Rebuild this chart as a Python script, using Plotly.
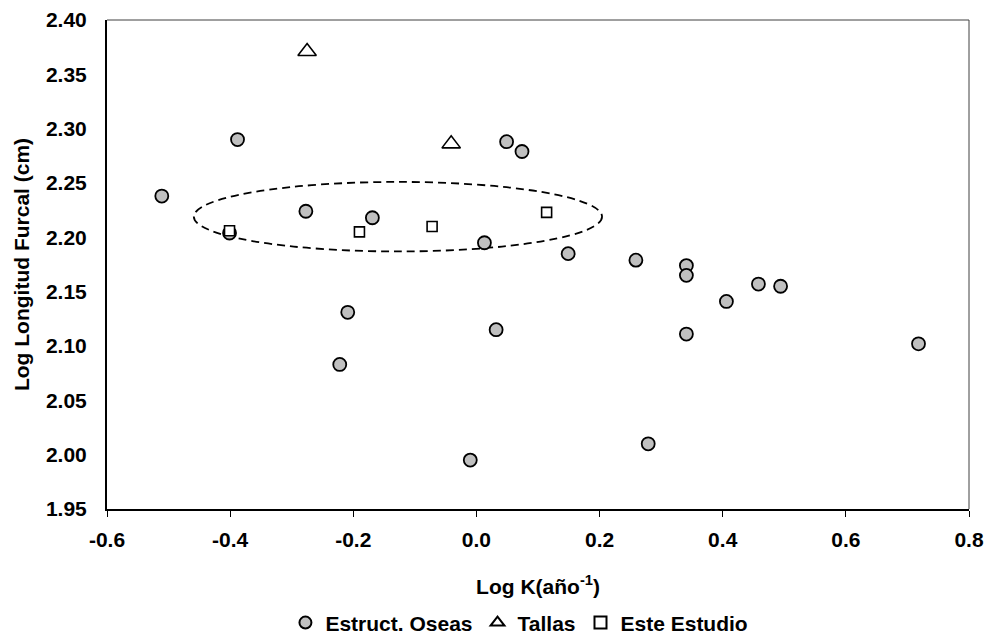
import plotly.graph_objects as go

# ---- data ----
estruct_x = [-0.511, -0.388, -0.401, -0.277, -0.169, -0.209, -0.222, -0.010, 0.013, 0.032, 0.049,
             0.074, 0.149, 0.259, 0.279, 0.341, 0.341, 0.341, 0.406, 0.458, 0.494, 0.718]
estruct_y = [2.238, 2.290, 2.204, 2.224, 2.218, 2.131, 2.083, 1.995, 2.195, 2.115, 2.288,
             2.279, 2.185, 2.179, 2.010, 2.174, 2.165, 2.111, 2.141, 2.157, 2.155, 2.102]

tallas_x = [-0.275, -0.041]
tallas_y = [2.371, 2.286]

estudio_x = [-0.401, -0.190, -0.072, 0.114]
estudio_y = [2.206, 2.205, 2.210, 2.223]

series_names = ["Estruct. Oseas", "Tallas", "Este Estudio"]

x_tickvals = [-0.6, -0.4, -0.2, 0.0, 0.2, 0.4, 0.6, 0.8]
x_ticktext = ["-0.6", "-0.4", "-0.2", "0.0", "0.2", "0.4", "0.6", "0.8"]
y_tickvals = [1.95, 2.00, 2.05, 2.10, 2.15, 2.20, 2.25, 2.30, 2.35, 2.40]
y_ticktext = ["1.95", "2.00", "2.05", "2.10", "2.15", "2.20", "2.25", "2.30", "2.35", "2.40"]

# dashed ellipse bounds (data units)
ellipse_x = [-0.459, 0.204]
ellipse_y = [2.187, 2.251]

FONT = "Arial, 'Liberation Sans', sans-serif"
FS = 21

fig = go.Figure()
fig.add_trace(go.Scatter(
    x=estruct_x, y=estruct_y, mode="markers", name=series_names[0],
    marker=dict(symbol="circle", size=13, color="#C0C0C0", line=dict(color="black", width=1.8)),
))
fig.add_trace(go.Scatter(
    x=tallas_x, y=tallas_y, mode="markers", name=series_names[1],
    marker=dict(symbol="triangle-up", size=16, color="white", line=dict(color="black", width=1.6)),
))
fig.add_trace(go.Scatter(
    x=estudio_x, y=estudio_y, mode="markers", name=series_names[2],
    marker=dict(symbol="square", size=10, color="white", line=dict(color="black", width=1.6)),
))

fig.add_shape(type="circle", xref="x", yref="y",
              x0=ellipse_x[0], x1=ellipse_x[1], y0=ellipse_y[0], y1=ellipse_y[1],
              line=dict(color="black", width=1.8, dash="8px,5px"), layer="below")
# top and right frame
fig.add_shape(type="line", xref="paper", yref="paper", x0=0, x1=1, y0=1, y1=1,
              line=dict(color="#404040", width=1))
fig.add_shape(type="line", xref="paper", yref="paper", x0=1, x1=1, y0=0, y1=1,
              line=dict(color="#404040", width=1))

fig.update_layout(
    width=990, height=637,
    margin=dict(l=107, r=21, t=20, b=128, autoexpand=False),
    paper_bgcolor="white", plot_bgcolor="white",
    font=dict(family=FONT, size=FS, color="black", weight="bold"),
    showlegend=True,
    legend=dict(orientation="h", x=0.207, xanchor="left", y=-0.233, yanchor="middle",
                font=dict(family=FONT, size=FS, color="black", weight="bold"),
                itemsizing="constant", bgcolor="rgba(0,0,0,0)", tracegroupgap=0),
    xaxis=dict(
        range=[-0.6, 0.8], tickvals=x_tickvals, ticktext=x_ticktext,
        showgrid=False, zeroline=False,
        showline=True, linecolor="black", linewidth=2,
        ticks="outside", ticklen=6, tickwidth=1, tickcolor="black",
        ticklabelstandoff=5,
        tickfont=dict(family=FONT, size=FS, color="black", weight="bold"),
        title=dict(text="Log K(año<sup>-1</sup>)", standoff=29,
                   font=dict(family=FONT, size=FS, color="black", weight="bold")),
    ),
    yaxis=dict(
        range=[1.95, 2.40], tickvals=y_tickvals, ticktext=y_ticktext,
        showgrid=False, zeroline=False,
        showline=True, linecolor="black", linewidth=2,
        ticks="", ticklabelstandoff=14,
        tickfont=dict(family=FONT, size=FS, color="black", weight="bold"),
        title=dict(text="Log Longitud Furcal (cm)", standoff=11,
                   font=dict(family=FONT, size=FS, color="black", weight="bold")),
    ),
)

fig.write_html("out.html", config={"displayModeBar": False},
               post_script="document.body.style.margin='0px';")
